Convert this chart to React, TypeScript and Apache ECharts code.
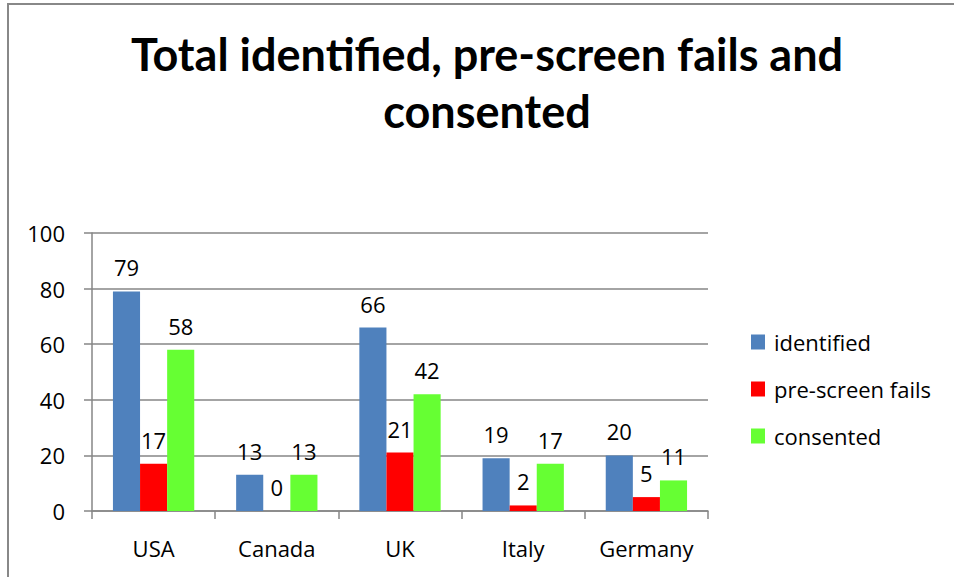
import React, { useEffect, useRef } from "react";
import * as echarts from "echarts";

const categories = ["USA", "Canada", "UK", "Italy", "Germany"];
const identified = [79, 13, 66, 19, 20];
const preScreenFails = [17, 0, 21, 2, 5];
const consented = [58, 13, 42, 17, 11];
const seriesNames = ["identified", "pre-screen fails", "consented"];
const titleText = "Total identified, pre-screen fails and\nconsented";

const FONT = "'Open Sans', Carlito, Calibri, sans-serif";
const TITLE_FONT = "Lato, Carlito, Calibri, sans-serif";

export default function App() {
  const ref = useRef<HTMLDivElement>(null);
  useEffect(() => {
    if (!ref.current) return;
    const chart = echarts.init(ref.current, undefined, { renderer: "svg" });
    const label = {
      show: true,
      position: "top",
      distance: 13,
      color: "#000",
      fontSize: 22,
      fontFamily: FONT,
    };
    const mk = (name: string, data: number[], color: string) => ({
      name,
      type: "bar",
      data,
      barGap: "0%",
      barCategoryGap: "34%",
      itemStyle: { color },
      label,
    });
    chart.setOption({
      animation: false,
      backgroundColor: "#fff",
      textStyle: { fontFamily: FONT },
      title: {
        text: titleText,
        left: 487,
        top: 25,
        padding: 0,
        textAlign: "center",
        textStyle: {
          fontSize: 45,
          fontWeight: "bold",
          fontFamily: TITLE_FONT,
          lineHeight: 57,
          color: "#000",
        },
      },
      graphic: [
        {
          type: "rect",
          shape: { x: 8, y: 4, width: 1000, height: 1000 },
          style: { fill: "none", stroke: "#888", lineWidth: 2 },
          silent: true,
        },
      ],
      legend: {
        orient: "vertical",
        left: 751,
        top: 331,
        padding: 0,
        itemWidth: 14,
        itemHeight: 15,
        itemGap: 25,
        icon: "rect",
        data: seriesNames,
        textStyle: { fontSize: 22, fontFamily: FONT, color: "#000", padding: [0, 0, 0, 4] },
      },
      grid: { left: 92, right: 246, top: 233, bottom: 66, containLabel: false },
      xAxis: {
        type: "category",
        data: categories,
        axisLine: { lineStyle: { color: "#868686", width: 1.5 } },
        axisTick: { show: true, length: 8, lineStyle: { color: "#868686", width: 1.5 } },
        axisLabel: { margin: 26, fontSize: 22, color: "#000", fontFamily: FONT },
      },
      yAxis: {
        type: "value",
        min: 0,
        max: 100,
        interval: 20,
        axisLine: { show: true, lineStyle: { color: "#868686", width: 1.5 } },
        axisTick: { show: true, length: 8, lineStyle: { color: "#868686", width: 1.5 } },
        splitLine: { lineStyle: { color: "#868686", width: 1.5 } },
        axisLabel: { margin: 27, fontSize: 22, color: "#000", fontFamily: FONT },
      },
      series: [
        mk(seriesNames[0], identified, "#4F81BD"),
        mk(seriesNames[1], preScreenFails, "#FF0000"),
        mk(seriesNames[2], consented, "#66FF33"),
      ],
    });
    return () => chart.dispose();
  }, []);
  return (
    <div
      ref={ref}
      style={{ position: "absolute", left: 0, top: 0, width: 954, height: 577 }}
    />
  );
}
